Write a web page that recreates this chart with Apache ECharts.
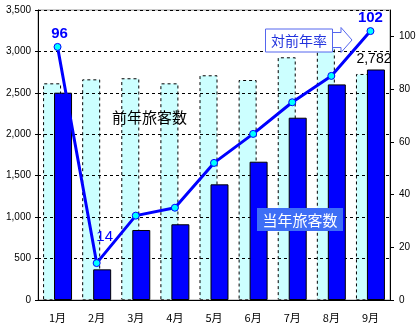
<!DOCTYPE html>
<html><head><meta charset="utf-8">
<script src="https://cdn.jsdelivr.net/npm/echarts@6/dist/echarts.min.js"></script>
<style>html,body{margin:0;padding:0;background:#fff}#c{width:420px;height:328px}</style>
</head><body><div id="c"></div>
<script>
const months = ['1月','2月','3月','4月','5月','6月','7月','8月','9月'];
const prevYear = [2615, 2663, 2676, 2615, 2712, 2655, 2929, 3070, 2728];
const currYear = [2502, 370, 845, 914, 1396, 1669, 2200, 2602, 2782];
const ratio = [96, 14, 32, 35, 52, 63, 75, 85, 102];
const leftTicks = [0, 500, 1000, 1500, 2000, 2500, 3000, 3500];
const rightTicks = [0, 20, 40, 60, 80, 100];

const JP = '"Noto Sans CJK JP", sans-serif';
const NUM = '"Liberation Sans", Arial, sans-serif';

const chart = echarts.init(document.getElementById('c'), null, {renderer: 'canvas'});

function fmtComma(v){ return String(v).replace(/\B(?=(\d{3})+(?!\d))/g, ','); }

const ratioData = ratio.map((v, i) => {
  const d = {value: v};
  if (i === 0) d.label = {show: true, position: 'top', distance: 2, offset: [2, 0], fontWeight: 'bold'};
  else if (i === 1) d.label = {show: true, position: 'top', distance: 5, offset: [8, -10], fontWeight: 'normal'};
  else if (i === ratio.length - 1) d.label = {show: true, position: 'top', distance: 2, fontWeight: 'bold'};
  return d;
});
const currData = currYear.map((v, i) => {
  const d = {value: v};
  if (i === currYear.length - 1) d.label = {show: true, position: 'top', distance: 3, offset: [-2, 0], color: '#000', fontFamily: NUM, fontSize: 14, formatter: p => fmtComma(p.value)};
  return d;
});

chart.setOption({
  animation: false,
  backgroundColor: '#fff',
  grid: {left: 38, right: 30, top: 10, bottom: 28, show: true, borderColor: '#999', borderWidth: 1, backgroundColor: 'transparent'},
  xAxis: {
    type: 'category', data: months,
    axisLine: {lineStyle: {color: '#000', width: 1}},
    axisTick: {show: false},
    axisLabel: {fontFamily: JP, fontSize: 11, color: '#000', margin: 12}
  },
  yAxis: [{
    type: 'value', min: 0, max: 3500, interval: 500,
    axisLine: {show: true, lineStyle: {color: '#000'}},
    axisTick: {show: true, length: 3, lineStyle: {color: '#000'}},
    axisLabel: {fontFamily: NUM, fontSize: 10, color: '#000', margin: 7, formatter: v => fmtComma(v)},
    splitLine: {show: true, lineStyle: {color: '#000', type: [3, 3], width: 1}}
  }, {
    type: 'value', min: 0, max: 110, interval: 20, position: 'right',
    axisLine: {show: true, lineStyle: {color: '#000'}},
    axisTick: {show: true, length: 4, inside: false, lineStyle: {color: '#000'}, customValues: rightTicks},
    axisLabel: {fontFamily: NUM, fontSize: 10, color: '#000', margin: 9, customValues: rightTicks, formatter: v => (v > 100 ? '' : String(v))},
    splitLine: {show: false}
  }],
  series: [{
    name: '前年旅客数', type: 'bar', yAxisIndex: 0, z: -1,
    data: prevYear, barWidth: 18, barGap: '-39%',
    itemStyle: {color: '#ccffff', borderColor: '#000', borderWidth: 1, borderType: [3, 3]}
  }, {
    name: '当年旅客数', type: 'bar', yAxisIndex: 0, z: 3,
    data: currData, barWidth: 18,
    itemStyle: {color: '#0000ff', borderColor: '#000', borderWidth: 1},
    label: {show: false}
  }, {
    name: '対前年率', type: 'line', yAxisIndex: 1, z: 5,
    data: ratioData,
    lineStyle: {color: '#0000ff', width: 3},
    symbol: 'circle', symbolSize: 7,
    itemStyle: {color: '#00ffff', borderColor: '#0000ff', borderWidth: 1},
    label: {show: false, color: '#0000ff', fontFamily: NUM, fontSize: 15}
  }],
  graphic: [{
    type: 'text', left: 112, top: 110, zlevel: 1, z: 100,
    style: {text: '前年旅客数', fontFamily: JP, fontSize: 15, fill: '#000', fontWeight: 'normal'}
  }, {
    type: 'group', left: 257, top: 208, zlevel: 1, z: 100,
    children: [{
      type: 'rect', zlevel: 1, z: 100, shape: {x: 0, y: 0, width: 86, height: 23},
      style: {fill: '#3e6ef6'}
    }, {
      type: 'text', zlevel: 1, z: 101, x: 43, y: 12,
      style: {text: '当年旅客数', fontFamily: JP, fontSize: 15, fill: '#fff', textAlign: 'center', textVerticalAlign: 'middle'}
    }]
  }, {
    type: 'group', left: 265, top: 27, zlevel: 1, z: 100,
    children: [{
      type: 'polygon', zlevel: 1, z: 100,
      shape: {points: [[67, 5], [76, 5], [76, 0], [87, 12.5], [76, 25], [76, 20], [67, 20]]},
      style: {fill: '#fff', stroke: '#5566ee', lineWidth: 1}
    }, {
      type: 'rect', zlevel: 1, z: 101, shape: {x: 0.5, y: 1.5, width: 67, height: 23},
      style: {fill: '#fff', stroke: '#5566ee', lineWidth: 1}
    }, {
      type: 'text', zlevel: 1, z: 102, x: 34, y: 13,
      style: {text: '対前年率', fontFamily: JP, fontSize: 14, fill: '#2233dd', textAlign: 'center', textVerticalAlign: 'middle'}
    }]
  }]
});
</script></body></html>
